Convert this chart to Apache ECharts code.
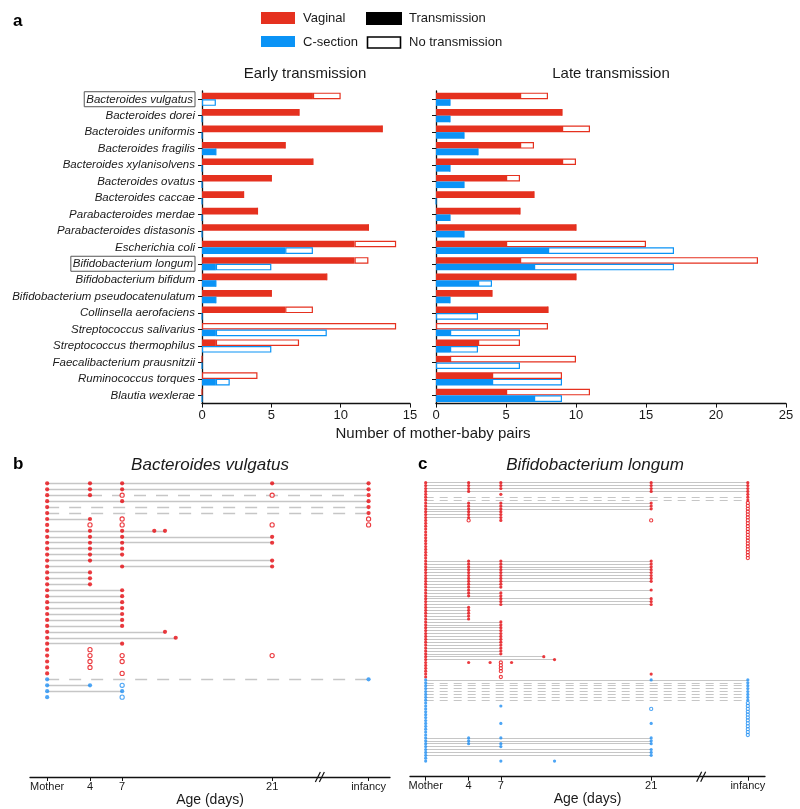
<!DOCTYPE html>
<html><head><meta charset="utf-8">
<script src="https://cdn.jsdelivr.net/npm/echarts@6/dist/echarts.min.js"></script>
<style>html,body{margin:0;padding:0;background:#fff}#main{width:800px;height:809px}</style>
</head><body><div id="main"></div>
<script>
// ---------- Panel a data ----------
const species = ['Bacteroides vulgatus','Bacteroides dorei','Bacteroides uniformis','Bacteroides fragilis',
  'Bacteroides xylanisolvens','Bacteroides ovatus','Bacteroides caccae','Parabacteroides merdae',
  'Parabacteroides distasonis','Escherichia coli','Bifidobacterium longum','Bifidobacterium bifidum',
  'Bifidobacterium pseudocatenulatum','Collinsella aerofaciens','Streptococcus salivarius',
  'Streptococcus thermophilus','Faecalibacterium prausnitzii','Ruminococcus torques','Blautia wexlerae'];
const boxedSpecies = ['Bacteroides vulgatus','Bifidobacterium longum'];
// early transmission: pairs with transmission / total pairs
const earlyVagTrans = [8,7,13,6,8,5,3,4,12,11,11,9,5,6,0,1,0,0,0];
const earlyVagTotal = [10,7,13,6,8,5,3,4,12,14,12,9,5,8,14,7,0,4,0];
const earlyCsTrans  = [0,0,0,1,0,0,0,0,0,6,1,1,1,0,1,0,0,1,0];
const earlyCsTotal  = [1,0,0,1,0,0,0,0,0,8,5,1,1,0,9,5,0,2,0];
// late transmission
const lateVagTrans = [6,9,9,6,9,5,7,6,10,5,6,10,4,8,0,3,1,4,5];
const lateVagTotal = [8,9,11,7,10,6,7,6,10,15,23,10,4,8,8,6,10,9,11];
const lateCsTrans  = [1,1,2,3,1,2,0,1,2,8,7,3,1,0,1,1,0,4,7];
const lateCsTotal  = [1,1,2,3,1,2,0,1,2,17,17,4,1,3,6,3,6,9,9];

// ---------- Panels b / c data ----------
const INF = 30; // "infancy" plotted at 30 days on the age axis
const ageTicks = [0,4,7,21,INF];
const ageTickLabels = ['Mother','4','7','21','infancy'];
// rows: [count, birth mode (V/C), solid line end, dashed line end, strain detected (shared), strain detected (not shared)]
const vulgatusRows = [
  [1,'V',INF,null,[0,4,7,21,INF],[]],
  [1,'V',INF,null,[0,4,7,INF],[]],
  [1,'V',4,INF,[0,4,INF],[7,21]],
  [1,'V',INF,null,[0,7,INF],[]],
  [2,'V',null,INF,[0,INF],[]],
  [1,'V',4,null,[0,4],[7,INF]],
  [1,'V',null,null,[0],[4,7,21,INF]],
  [1,'V',11,null,[0,4,7,10,11],[]],
  [2,'V',21,null,[0,4,7,21],[]],
  [2,'V',7,null,[0,4,7],[]],
  [1,'V',21,null,[0,4,21],[]],
  [1,'V',21,null,[0,7,21],[]],
  [3,'V',4,null,[0,4],[]],
  [7,'V',7,null,[0,7],[]],
  [1,'V',11,null,[0,11],[]],
  [1,'V',12,null,[0,12],[]],
  [1,'V',7,null,[0,7],[]],
  [1,'V',null,null,[0],[4]],
  [1,'V',null,null,[0],[4,7,21]],
  [1,'V',null,null,[0],[4,7]],
  [1,'V',null,null,[0],[4]],
  [1,'V',null,null,[0],[7]],
  [1,'C',null,INF,[0,INF],[]],
  [1,'C',4,null,[0,4],[7]],
  [1,'C',7,null,[0,7],[]],
  [1,'C',null,null,[0],[7]]
];
const longumRows = [
  [3,'V',INF,null,[0,4,7,21,INF],[]],
  [1,'V',INF,null,[0,4,21,INF],[]],
  [1,'V',null,null,[0,7,INF],[]],
  [2,'V',null,INF,[0,INF],[]],
  [3,'V',21,null,[0,4,7,21],[INF]],
  [3,'V',7,null,[0,4,7],[INF]],
  [1,'V',null,null,[0,7],[4,21,INF]],
  [13,'V',null,null,[0],[INF]],
  [8,'V',21,null,[0,4,7,21],[]],
  [2,'V',7,null,[0,4,7],[]],
  [1,'V',21,null,[0,4,21],[]],
  [2,'V',7,null,[0,4,7],[]],
  [3,'V',21,null,[0,7,21],[]],
  [5,'V',4,null,[0,4],[]],
  [12,'V',7,null,[0,7],[]],
  [1,'V',11,null,[0,11],[]],
  [1,'V',12,null,[0,12],[]],
  [1,'V',null,null,[0,4,6,8],[7]],
  [3,'V',null,null,[0],[7]],
  [1,'V',null,null,[0,21],[]],
  [1,'V',null,null,[0],[7]],
  [1,'C',INF,null,[0,21,INF],[]],
  [7,'C',null,INF,[0,INF],[]],
  [1,'C',null,null,[0],[INF]],
  [1,'C',null,null,[0,7],[INF]],
  [1,'C',null,null,[0],[21,INF]],
  [4,'C',null,null,[0],[INF]],
  [1,'C',null,null,[0,7,21],[INF]],
  [4,'C',null,null,[0],[INF]],
  [1,'C',21,null,[0,4,7,21],[]],
  [1,'C',21,null,[0,4,21],[]],
  [1,'C',21,null,[0,4,7,21],[]],
  [1,'C',7,null,[0,7],[]],
  [3,'C',21,null,[0,21],[]],
  [1,'C',null,null,[0],[]],
  [1,'C',null,null,[0,7,12],[]]
];

// ---------- styles ----------
const RED = '#E5311F', BLUE = '#0A93F6';
const DOT_RED = '#E60A10', DOT_BLUE = '#1F8FF2';
const GREY = '#c6c6c6';
const FONT = 'Liberation Sans, Arial, Helvetica, sans-serif';
const TXT = '#1a1a1a';

const chart = echarts.init(document.getElementById('main'));

function diff(a, b) { return a.map((x, i) => x - b[i]); }
function barSeries(gi, vT, vTot, cT, cTot) {
  const common = { type: 'bar', xAxisIndex: gi, yAxisIndex: gi, barWidth: 6.6, barGap: '0%', silent: true };
  return [
    Object.assign({}, common, { stack: 'v' + gi, data: vT, itemStyle: { color: RED } }),
    Object.assign({}, common, { stack: 'v' + gi, data: diff(vTot, vT), itemStyle: { color: '#fff', borderColor: RED, borderWidth: 1.2 } }),
    Object.assign({}, common, { stack: 'c' + gi, data: cT, itemStyle: { color: BLUE } }),
    Object.assign({}, common, { stack: 'c' + gi, data: diff(cTot, cT), itemStyle: { color: '#fff', borderColor: BLUE, borderWidth: 1.2 } })
  ];
}
function expand(groups) {
  const rows = [];
  groups.forEach(g => { for (let k = 0; k < g[0]; k++) rows.push(g.slice(1)); });
  return rows;
}
function rowSeries(groups, gi, dotSize, dashPattern, lw) {
  const rows = expand(groups);
  const solid = [], dashed = [], fV = [], oV = [], fC = [], oC = [];
  rows.forEach((r, i) => {
    const [mode, sEnd, dEnd, filled, open] = r;
    if (sEnd != null) solid.push({ coords: [[0, i], [sEnd, i]] });
    if (dEnd != null) dashed.push({ coords: [[sEnd != null ? sEnd : 0, i], [dEnd, i]] });
    filled.forEach(d => (mode === 'V' ? fV : fC).push([d, i]));
    open.forEach(d => (mode === 'V' ? oV : oC).push([d, i]));
  });
  const ax = { xAxisIndex: gi, yAxisIndex: gi, silent: true };
  const sc = (data, color, isOpen) => Object.assign({}, ax, {
    type: 'scatter', data, symbol: 'circle', symbolSize: dotSize, z: 5,
    itemStyle: isOpen ? { color: '#fff', borderColor: color, borderWidth: 1.1 } : { color }
  });
  return [
    Object.assign({}, ax, { type: 'lines', coordinateSystem: 'cartesian2d', data: solid, z: 2,
      lineStyle: { color: GREY, width: lw, opacity: 1 } }),
    Object.assign({}, ax, { type: 'lines', coordinateSystem: 'cartesian2d', data: dashed, z: 2,
      lineStyle: { color: GREY, width: lw, type: dashPattern, opacity: 1 } }),
    sc(fV, DOT_RED, false), sc(oV, DOT_RED, true), sc(fC, DOT_BLUE, false), sc(oC, DOT_BLUE, true)
  ];
}

const ageAxis = (gi, min, max) => ({
  type: 'value', gridIndex: gi, min, max,
  axisLine: { show: true, onZero: false, lineStyle: { color: '#111', width: 1.3 } },
  axisTick: { show: true, customValues: ageTicks, length: 4, lineStyle: { color: '#111' } },
  axisLabel: { show: true, customValues: ageTicks, fontSize: 11, color: TXT, fontFamily: FONT, margin: 4,
    formatter: v => ageTickLabels[ageTicks.indexOf(v)] },
  splitLine: { show: false },
  name: 'Age (days)', nameLocation: 'middle', nameGap: 8,
  nameTextStyle: { fontSize: 14, color: TXT, fontFamily: FONT }
});
const catAxis = (gi, showLabel) => ({
  type: 'category', gridIndex: gi, data: species, inverse: true,
  axisLine: { show: true, lineStyle: { color: '#111', width: 1.3 } },
  axisTick: { show: true, alignWithLabel: true, length: 4, lineStyle: { color: '#111' } },
  axisLabel: showLabel ? {
    show: true, margin: 7, interval: 0,
    formatter: v => boxedSpecies.includes(v) ? '{box|' + v + '}' : '{n|' + v + '}',
    rich: {
      n: { fontStyle: 'italic', fontSize: 11.5, color: TXT, fontFamily: FONT },
      box: { fontStyle: 'italic', fontSize: 11.5, color: TXT, fontFamily: FONT,
        borderColor: '#555', borderWidth: 1, padding: [2, 2, 1, 2] }
    }
  } : { show: false }
});
const valAxis = (gi, max) => ({
  type: 'value', gridIndex: gi, min: 0, max, interval: 5,
  axisLine: { show: true, lineStyle: { color: '#111', width: 1.3 } },
  axisTick: { show: true, length: 4, lineStyle: { color: '#111' } },
  axisLabel: { fontSize: 13, color: TXT, fontFamily: FONT, margin: 5 },
  splitLine: { show: false }
});

const option = {
  animation: false,
  backgroundColor: '#fff',
  textStyle: { fontFamily: FONT },
  title: [
    { text: 'a', left: 8, top: 8, textStyle: { fontSize: 17, fontWeight: 'bold', color: '#000', fontFamily: FONT } },
    { text: 'b', left: 8, top: 451, textStyle: { fontSize: 17, fontWeight: 'bold', color: '#000', fontFamily: FONT } },
    { text: 'c', left: 413, top: 451, textStyle: { fontSize: 17, fontWeight: 'bold', color: '#000', fontFamily: FONT } },
    { text: 'Early transmission', left: 300, top: 61, textAlign: 'center', textStyle: { fontSize: 15, fontWeight: 'normal', color: TXT, fontFamily: FONT } },
    { text: 'Late transmission', left: 606, top: 61, textAlign: 'center', textStyle: { fontSize: 15, fontWeight: 'normal', color: TXT, fontFamily: FONT } },
    { text: 'Number of mother-baby pairs', left: 428, top: 421, textAlign: 'center', textStyle: { fontSize: 15, fontWeight: 'normal', color: TXT, fontFamily: FONT } },
    { text: 'Bacteroides vulgatus', left: 205, top: 452, textAlign: 'center', textStyle: { fontSize: 17, fontStyle: 'italic', fontWeight: 'normal', color: TXT, fontFamily: FONT } },
    { text: 'Bifidobacterium longum', left: 590, top: 452, textAlign: 'center', textStyle: { fontSize: 17, fontStyle: 'italic', fontWeight: 'normal', color: TXT, fontFamily: FONT } }
  ],
  grid: [
    { left: 202, width: 208, top: 91, height: 312.6 },
    { left: 436, width: 350, top: 91, height: 312.6 },
    { left: 30, width: 360, top: 477.4, height: 299.6 },
    { left: 410, width: 355, top: 479.8, height: 296.9 }
  ],
  xAxis: [valAxis(0, 15), valAxis(1, 25), ageAxis(2, -1.6, 32), ageAxis(3, -1.46, 31.6)],
  yAxis: [catAxis(0, true), catAxis(1, false),
    { type: 'value', gridIndex: 2, min: -1, max: (776.99 - 483.3) / 5.94, inverse: true, show: false },
    { type: 'value', gridIndex: 3, min: -1, max: (776.7 - 482.7) / 2.9, inverse: true, show: false }],
  graphic: [
    { type: 'rect', shape: { x: 261, y: 12, width: 34, height: 12 }, style: { fill: RED } },
    { type: 'text', style: { x: 303, y: 18, text: 'Vaginal', fontSize: 13, fill: TXT, font: '13px ' + FONT, verticalAlign: 'middle' } },
    { type: 'rect', shape: { x: 366, y: 12, width: 36, height: 13 }, style: { fill: '#000' } },
    { type: 'text', style: { x: 409, y: 18, text: 'Transmission', fontSize: 13, fill: TXT, font: '13px ' + FONT, verticalAlign: 'middle' } },
    { type: 'rect', shape: { x: 261, y: 36, width: 34, height: 11 }, style: { fill: BLUE } },
    { type: 'text', style: { x: 303, y: 42, text: 'C-section', fontSize: 13, fill: TXT, font: '13px ' + FONT, verticalAlign: 'middle' } },
    { type: 'rect', shape: { x: 367.5, y: 37, width: 33, height: 11 }, style: { fill: '#fff', stroke: '#000', lineWidth: 1.6 } },
    { type: 'text', style: { x: 409, y: 42, text: 'No transmission', fontSize: 13, fill: TXT, font: '13px ' + FONT, verticalAlign: 'middle' } }
  ],
  series: [].concat(
    barSeries(0, earlyVagTrans, earlyVagTotal, earlyCsTrans, earlyCsTotal),
    barSeries(1, lateVagTrans, lateVagTotal, lateCsTrans, lateCsTotal),
    rowSeries(vulgatusRows, 2, 4.2, [12, 10], 1.4),
    rowSeries(longumRows, 3, 3.2, [8, 6], 1.1)
  )
};
chart.setOption(option);

// axis-break marks ("//") on the age axes
const breaks = [];
[[2, 25.5, option.yAxis[2].max], [3, 25.7, option.yAxis[3].max]].forEach(([gi, d, y]) => {
  const p = chart.convertToPixel({ gridIndex: gi }, [d, y]);
  [-2.5, 1.5].forEach(off => breaks.push({ type: 'line', z: 10,
    shape: { x1: p[0] + off - 2.5, y1: p[1] + 5, x2: p[0] + off + 2.5, y2: p[1] - 5 },
    style: { stroke: '#111', lineWidth: 1.2 } }));
});
chart.setOption({ graphic: option.graphic.concat(breaks) });
</script></body></html>
